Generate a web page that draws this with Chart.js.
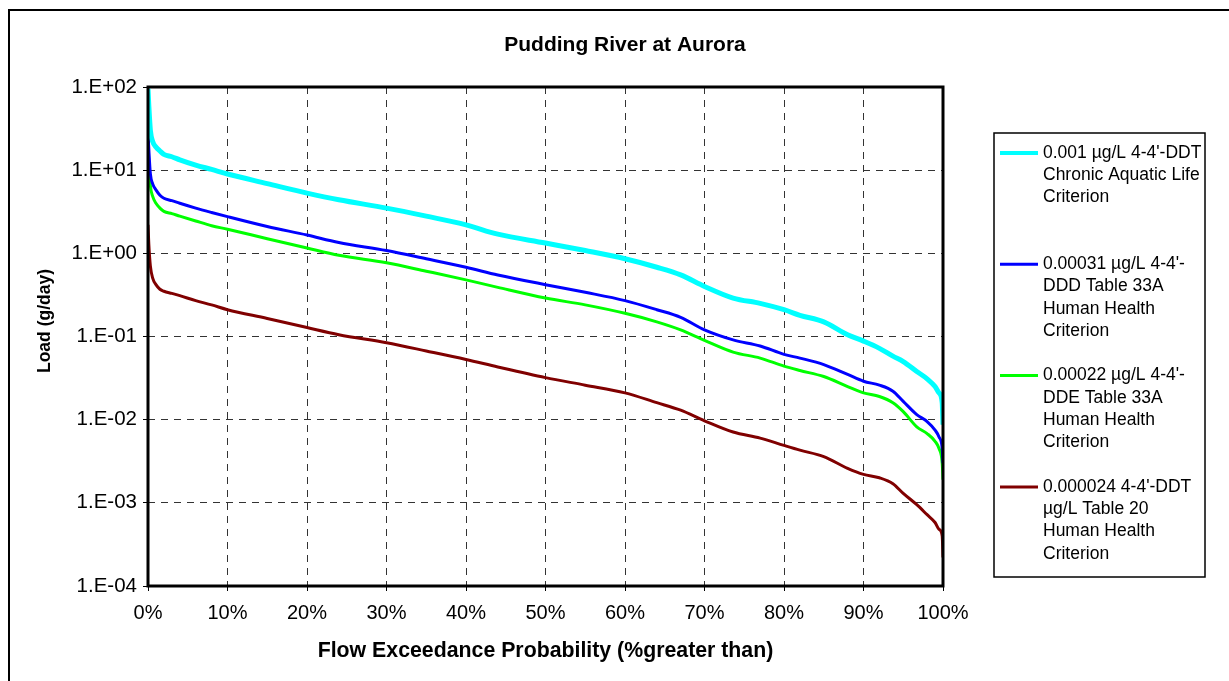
<!DOCTYPE html>
<html>
<head>
<meta charset="utf-8">
<script src="https://cdn.jsdelivr.net/npm/chart.js@4/dist/chart.umd.min.js"></script>
<style>
html, body { margin: 0; padding: 0; background: #fff; }
</style>
</head>
<body>
<canvas id="chart" width="1229" height="681"></canvas>
<script>
var chartTitle = "Pudding River at Aurora";
var xTitle = "Flow Exceedance Probability (%greater than)";
var yTitle = "Load (g/day)";
var yTicks = [1e-4, 1e-3, 1e-2, 1e-1, 1, 10, 100];

// flow exceedance probability (%)
var exceedance = [0, 0.1, 0.3, 0.6, 1, 1.5, 2, 3, 4, 6, 8, 10, 15, 20, 24, 30, 35, 40, 44, 50, 55, 60, 64, 67, 70, 73.6, 77, 80, 82, 85, 88, 90, 92, 93.7, 95, 96.7, 98, 99, 99.5, 99.9, 100];

// loads in g/day
var ddtAquatic = [95, 60, 30, 22, 19, 17, 15.5, 14.5, 13.3, 11.5, 10.2, 9.0, 6.9, 5.3, 4.4, 3.5, 2.8, 2.2, 1.7, 1.33, 1.08, 0.86, 0.68, 0.55, 0.40, 0.29, 0.25, 0.21, 0.18, 0.15, 0.105, 0.088, 0.072, 0.058, 0.05, 0.038, 0.031, 0.025, 0.021, 0.016, 0.0087];
var dddHuman = [28, 18, 9, 6.8, 5.8, 5.0, 4.6, 4.3, 4.0, 3.5, 3.1, 2.76, 2.1, 1.66, 1.35, 1.08, 0.86, 0.68, 0.55, 0.42, 0.34, 0.27, 0.21, 0.17, 0.12, 0.091, 0.077, 0.061, 0.055, 0.046, 0.035, 0.029, 0.026, 0.022, 0.0166, 0.0115, 0.0095, 0.0075, 0.0062, 0.0045, 0.003];
var ddeHuman = [19, 13, 6.5, 4.8, 4.0, 3.5, 3.2, 3.0, 2.8, 2.45, 2.15, 1.95, 1.5, 1.16, 0.95, 0.77, 0.61, 0.48, 0.39, 0.29, 0.24, 0.19, 0.15, 0.12, 0.09, 0.065, 0.055, 0.044, 0.039, 0.033, 0.025, 0.021, 0.019, 0.016, 0.0125, 0.0082, 0.0068, 0.0055, 0.0045, 0.003, 0.0019];
var ddtHuman = [2.2, 1.3, 0.7, 0.5, 0.42, 0.37, 0.35, 0.33, 0.31, 0.27, 0.24, 0.21, 0.165, 0.128, 0.105, 0.084, 0.067, 0.053, 0.043, 0.032, 0.026, 0.021, 0.016, 0.013, 0.0097, 0.0071, 0.006, 0.0049, 0.0043, 0.0036, 0.0026, 0.0022, 0.002, 0.0017, 0.0013, 0.00095, 0.00072, 0.00058, 0.00048, 0.0004, 0.00022];

var seriesLabels = [
    ["0.001 µg/L 4-4'-DDT", "Chronic Aquatic Life", "Criterion"],
    ["0.00031 µg/L 4-4'-", "DDD Table 33A", "Human Health", "Criterion"],
    ["0.00022 µg/L 4-4'-", "DDE Table 33A", "Human Health", "Criterion"],
    ["0.000024 4-4'-DDT", "µg/L Table 20", "Human Health", "Criterion"]
];
var seriesValues = [ddtAquatic, dddHuman, ddeHuman, ddtHuman];
var seriesColors = ["#00FFFF", "#0000FF", "#00FF00", "#800000"];
var seriesWidths = [5, 3, 3, 3];

var fontFam = "'Liberation Sans', Arial, sans-serif";

function toPoints(vals){
    return exceedance.map((p, i) => ({x: p, y: vals[i]}));
}

function expLabel(v){
    var e = Math.round(Math.log10(v));
    return `1.E${e >= 0 ? "+" : "-"}${String(Math.abs(e)).padStart(2, "0")}`;
}

var datasets = seriesValues.map((vals, i) => ({
    label: seriesLabels[i].join(" "),
    lines: seriesLabels[i],
    data: toPoints(vals),
    borderColor: seriesColors[i],
    backgroundColor: seriesColors[i],
    borderWidth: seriesWidths[i],
    pointRadius: 0,
    fill: false,
    cubicInterpolationMode: "monotone"
}));

// frame, plot border, titles and the boxed legend like the excel sheet
var excelLook = {
    id: "excelLook",
    beforeDraw(chart){
        var ctx = chart.ctx;
        ctx.save();
        ctx.fillStyle = "#fff";
        ctx.fillRect(0, 0, chart.width, chart.height);
        ctx.strokeStyle = "#000";
        ctx.lineWidth = 2;
        ctx.strokeRect(9, 10, chart.width + 20, chart.height + 20);
        ctx.restore();
    },
    afterDatasetsDraw(chart){
        var a = chart.chartArea;
        var ctx = chart.ctx;
        ctx.save();
        ctx.strokeStyle = "#000";
        ctx.lineWidth = 3;
        ctx.strokeRect(a.left, a.top, a.right - a.left, a.bottom - a.top);
        ctx.restore();
    },
    afterDraw(chart){
        var ctx = chart.ctx;
        ctx.save();
        ctx.fillStyle = "#000";
        ctx.textAlign = "center";
        ctx.textBaseline = "middle";
        ctx.font = `bold 21px ${fontFam}`;
        ctx.fillText(chartTitle, 625, 45);

        // y axis title
        ctx.save();
        ctx.translate(45, 321);
        ctx.rotate(-Math.PI / 2);
        ctx.font = `bold 17.5px ${fontFam}`;
        ctx.fillText(yTitle, 0, 0);
        ctx.restore();

        // legend
        var lx = 994, ly = 133, lw = 211, lh = 444;
        ctx.strokeStyle = "#000";
        ctx.lineWidth = 1.5;
        ctx.strokeRect(lx, ly, lw, lh);
        ctx.textAlign = "left";
        ctx.font = `17.5px ${fontFam}`;
        chart.data.datasets.forEach((ds, i) => {
            var y0 = 153 + i * 111.3;
            ctx.strokeStyle = ds.borderColor;
            ctx.lineWidth = i == 0 ? 4 : 3;
            ctx.beginPath();
            ctx.moveTo(1000, y0);
            ctx.lineTo(1038, y0);
            ctx.stroke();
            ctx.fillStyle = "#000";
            ds.lines.forEach((t, j) => {
                ctx.fillText(t, 1043, y0 + j * 22.3);
            });
        });
        ctx.restore();
    }
};

var gridOpts = {
    color: "#333",
    lineWidth: 1,
    tickLength: 5,
    tickColor: "#000",
    tickBorderDash: []
};

var myChart = new Chart(document.getElementById("chart"), {
    type: "line",
    data: { datasets: datasets },
    plugins: [excelLook],
    options: {
        responsive: false,
        animation: false,
        devicePixelRatio: 1,
        layout: { padding: { left: 0, top: 87, right: 286, bottom: 0 } },
        plugins: {
            legend: { display: false },
            title: { display: false },
            tooltip: { enabled: false }
        },
        scales: {
            x: {
                type: "linear",
                min: 0,
                max: 100,
                afterFit: s => { s.height = 95; },
                ticks: {
                    stepSize: 10,
                    color: "#000",
                    padding: 10,
                    font: { family: fontFam, size: 20 },
                    callback: v => v + "%"
                },
                grid: gridOpts,
                border: { display: false, dash: [7, 6] },
                title: {
                    display: true,
                    text: xTitle,
                    color: "#000",
                    padding: { bottom: 17 },
                    font: { family: fontFam, size: 21.3, weight: "bold" }
                }
            },
            y: {
                type: "logarithmic",
                min: 1e-4,
                max: 100,
                afterFit: s => { s.width = 148; },
                afterBuildTicks: s => { s.ticks = yTicks.map(v => ({ value: v })); },
                ticks: {
                    color: "#000",
                    padding: 6,
                    autoSkip: false,
                    font: { family: fontFam, size: 20.5 },
                    callback: v => expLabel(v)
                },
                grid: gridOpts,
                border: { display: false, dash: [7, 6] }
            }
        }
    }
});
</script>
</body>
</html>
